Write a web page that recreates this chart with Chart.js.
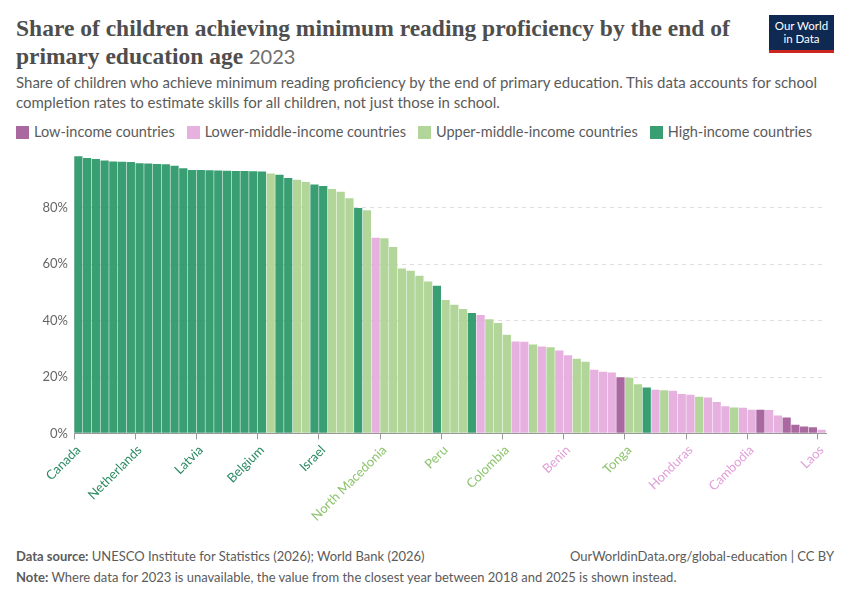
<!DOCTYPE html>
<html><head><meta charset="utf-8">
<script src="https://cdn.jsdelivr.net/npm/chart.js@4"></script>
<style>
body{margin:0;width:850px;height:600px;font-family:Lato,sans-serif;background:#fff;position:relative;overflow:hidden}
h1{position:absolute;left:16px;top:14px;margin:0;white-space:nowrap;font:bold 23.5px/28px "Liberation Serif","Times New Roman",serif;color:#4e4e4e}
h1 span{font:20px Lato,sans-serif;color:#6e6e6e;letter-spacing:0}
.sub{position:absolute;left:16px;top:72px;width:820px;font-size:15px;line-height:20px;color:#5b5b5b}
.logo{position:absolute;left:769px;top:15px;width:65px;height:38px;background:#0f2a52;color:#fff;font-size:11.5px;line-height:13px;text-align:center;padding-top:4px;box-sizing:border-box;border-bottom:3px solid #ce261e}
.leg{position:absolute;left:16px;top:123px;font-size:14.5px;color:#5b5b5b}
.leg i{display:inline-block;width:13px;height:13px;vertical-align:-2px;margin-right:5px}
.leg b{font-weight:normal;margin-right:12px}
#wrap{position:absolute;left:10px;top:142px;width:830px;height:385px}
.foot{position:absolute;left:16px;font-size:13px;color:#5b5b5b}
</style></head><body>
<h1>Share of children achieving minimum reading proficiency by the end of<br>primary education age <span>2023</span></h1>
<div class="logo">Our World<br>in Data</div>
<div class="sub">Share of children who achieve minimum reading proficiency by the end of primary education. This data accounts for school completion rates to estimate skills for all children, not just those in school.</div>
<div class="leg"><i style="background:#a9689f"></i><b>Low-income countries</b><i style="background:#e6b0df"></i><b>Lower-middle-income countries</b><i style="background:#b2d69a"></i><b>Upper-middle-income countries</b><i style="background:#3a9e73"></i><b>High-income countries</b></div>
<div id="wrap"><canvas id="c"></canvas></div>
<div class="foot" style="top:548px"><b>Data source:</b> UNESCO Institute for Statistics (2026); World Bank (2026)</div>
<div class="foot" style="top:548px;left:auto;right:16px">OurWorldinData.org/global-education | CC BY</div>
<div class="foot" style="top:569px"><b>Note:</b> Where data for 2023 is unavailable, the value from the closest year between 2018 and 2025 is shown instead.</div>
<script>
const values = [98.3,97.7,97.4,96.8,96.5,96.4,96.3,95.9,95.8,95.6,95.5,95.0,94.1,93.5,93.5,93.4,93.3,93.2,93.1,93.1,93.0,92.9,
  92.2,91.8,90.6,90.0,89.2,88.3,87.8,86.7,85.7,83.4,80.0,79.2,69.4,69.2,66.1,58.5,57.7,55.9,53.9,52.4,47.3,45.6,44.1,42.7,
  42.0,40.5,39.2,35.0,32.6,32.5,31.5,30.8,30.6,29.4,27.7,26.5,25.4,22.6,21.9,21.6,19.9,19.7,17.4,16.3,15.5,15.3,15.1,14.0,
  13.7,13.0,12.7,11.1,9.6,9.2,9.1,8.4,8.4,8.3,6.3,5.6,3.1,2.4,2.2,1.3];
// H=high, U=upper-middle, M=lower-middle, L=low
const groups = [
  'H','H','H','H','H','H','H','H','H','H','H','H','H','H','H','H','H','H','H','H','H','H',
  'U','H','H','U','U','H','H','U','U','U','H','U','M','U','U','U','U','U','U','H',
  'U','U','U','H','M','U','U','U','M','M','U','M','U','M','M','U','U','M','M','M',
  'L','U','U','H','M','U','M','M','M','U','M','M','M','U','M','M','L','M','M','L',
  'L','L','L','M'];
const named = {0:'Canada',7:'Netherlands',14:'Latvia',21:'Belgium',28:'Israel',35:'North Macedonia',42:'Peru',49:'Colombia',56:'Benin',63:'Tonga',70:'Honduras',77:'Cambodia',85:'Laos'};
const labels = values.map((v,i) => named[i] || '');
const fill = {L:'#a9689f',M:'#e6b0df',U:'#b2d69a',H:'#3a9e73'};
const text = {L:'#a2559c',M:'#e09fd8',U:'#8cc46c',H:'#2a8a62'};

new Chart(document.getElementById('c'), {
  type: 'bar',
  data: {labels: labels, datasets: [{data: values, backgroundColor: groups.map(g => fill[g]),
    categoryPercentage: 1, barPercentage: 0.94}]},
  options: {
    responsive: true, maintainAspectRatio: false, animation: false,
    layout: {padding: {right: 14}},
    plugins: {legend: {display: false}, tooltip: {enabled: false}},
    scales: {
      x: {
        grid: {drawOnChartArea: false, tickLength: 6, color: (c) => labels[c.index] ? '#999' : 'rgba(0,0,0,0)'},
        border: {color: '#999'},
        ticks: {autoSkip: false, maxRotation: 45, minRotation: 45, font: {family: 'Lato', size: 13},
          color: (c) => text[groups[c.index]]}
      },
      y: {
        min: 0, max: 98.5,
        afterFit: (ax) => { ax.width = 64; },
        grid: {color: '#ddd', drawTicks: false},
        border: {display: false, dash: [4, 4]},
        afterBuildTicks: (ax) => { ax.ticks = [0,20,40,60,80].map(v => ({value: v})); },
        ticks: {padding: 6, color: '#666', font: {family: 'Lato', size: 13}, callback: (v) => v + '%'}
      }
    }
  }
});
</script>
</body></html>
